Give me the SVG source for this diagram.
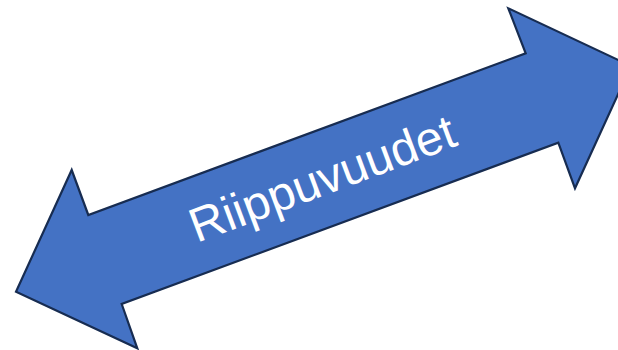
<svg xmlns="http://www.w3.org/2000/svg" width="618" height="350" viewBox="0 0 618 350">
<style>
.arrow{fill:#4472C4;stroke:#172C51;stroke-width:2.2;stroke-linejoin:miter}
.lbl{font-family:"Liberation Sans",Arial,sans-serif;font-size:48px;fill:#FFFFFF}
</style>
<rect width="618" height="350" fill="#FFFFFF"/>
<g id="arrow">
<polygon class="arrow" points="71.7,170 88.3,215 525.7,53.3 508.3,8.3 631,66 575,188.3 558.3,142.7 121.7,304 137.3,348.3 16,291.7"/>
<text class="lbl" x="328" y="194" text-anchor="middle" transform="rotate(-20.5 328 194)">Riippuvuudet</text>
</g>
</svg>
